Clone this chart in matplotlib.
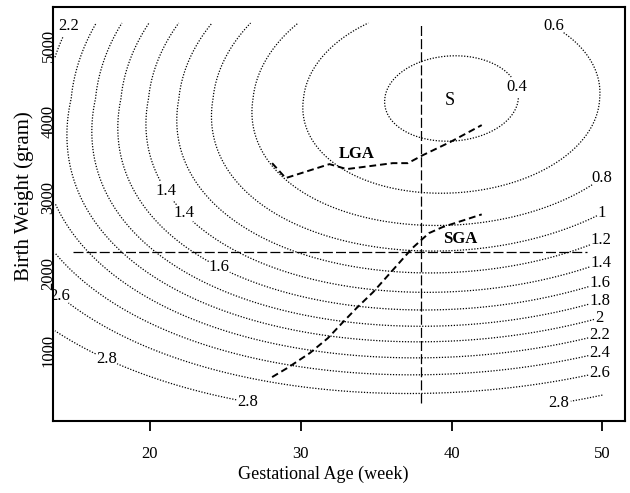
import numpy as np
import matplotlib
matplotlib.use("Agg")
import matplotlib.pyplot as plt

plt.rcParams['font.family'] = ['Liberation Serif', 'DejaVu Serif']

# surface parameters
centre_age, centre_weight = 40.0, 4300.0
scale_age, scale_weight = 19.6, 2480.0
shear_lin, shear_quad = 1.2, -0.4
widen = 0.067
floor_value = 0.349
bend_start, bend = 1.5, 0.21
grid_age = (13.7, 50.0)
grid_weight = (300.0, 5290.0)

levels = [0.4, 0.6, 0.8, 1.0, 1.2, 1.4, 1.6, 1.8, 2.0, 2.2, 2.4, 2.6, 2.8]

# where the contour labels sit
label_age = [14.4, 20.8, 22.0, 24.4, 13.9, 17.0, 26.4, 47.15, 46.7, 44.3,
             49.8, 49.8, 49.8, 49.8, 49.8, 49.8, 49.8, 49.8, 49.8, 49.8]
label_weight = [5262, 3059, 2744, 2023, 1695, 843, 226, 279, 5223, 4449,
                3295, 2862, 2482, 2180, 1892, 1656, 1433, 1210, 987, 725]

# LGA / SGA curves
lga_age = [28.1, 29.0, 31.9, 33.05, 36.1, 37.1, 38.1, 39.9, 42.0]
lga_weight = [3452, 3256, 3439, 3374, 3452, 3452, 3557, 3728, 3951]
sga_age = [28.1, 29.1, 30.6, 31.8, 32.8, 33.7, 34.8, 36.1, 37.4, 38.5, 39.4, 42.0]
sga_weight = [646, 764, 961, 1157, 1367, 1551, 1761, 2049, 2338, 2534, 2613, 2780]

cut_age = 38.0
cut_weight = 2290.0
hline_age = (14.9, 49.0)


def surface(age, weight):
    v = (weight - centre_weight) / scale_weight
    xc = centre_age + shear_lin * v + shear_quad * v ** 2
    ax_eff = scale_age * (1 + widen * np.maximum(-v, 0))
    u = (age - xc) / ax_eff
    q = u ** 2 + v ** 2
    t = np.clip(q - bend_start, 0, 1 / (2 * bend))
    return floor_value + np.minimum(q, bend_start) + t - bend * t ** 2


A, W = np.meshgrid(np.linspace(*grid_age, 400), np.linspace(*grid_weight, 400))
F = surface(A, W)

fig = plt.figure(figsize=(6.3, 4.93), dpi=100)
ax = fig.add_axes([53 / 630, 1 - 421 / 493, 572 / 630, 414 / 493])

cs = ax.contour(A, W, F, levels=levels, colors='black', linewidths=0.9,
                linestyles=[(0, (1, 1.3))] * len(levels))
texts = ax.clabel(cs, levels, inline=True, inline_spacing=2, fontsize=12,
                  fmt=lambda v: f"{v:g}", manual=list(zip(label_age, label_weight)))
for t in texts:
    t.set_rotation(0)

ax.plot(lga_age, lga_weight, color='black', lw=1.4, linestyle=(0, (3.5, 2)))
ax.plot(sga_age, sga_weight, color='black', lw=1.4, linestyle=(0, (3.5, 2)))
ax.plot([cut_age, cut_age], grid_weight, color='black', lw=0.9, linestyle=(0, (8, 2.5)))
ax.plot(hline_age, [cut_weight, cut_weight], color='black', lw=0.9, linestyle=(0, (8, 2.5)))

ax.text(33.7, 3570, 'LGA', fontsize=12, fontweight='bold', ha='center', va='center')
ax.text(40.6, 2456, 'SGA', fontsize=12, fontweight='bold', ha='center', va='center')
ax.text(39.9, 4280, 'S', fontsize=13, ha='center', va='center')

ax.set_xlim(13.57, 51.5)
ax.set_ylim(70, 5500)
ax.set_xticks([20, 30, 40, 50])
ax.set_yticks([1000, 2000, 3000, 4000, 5000])
ax.tick_params(axis='x', direction='out', length=7, width=1.3, labelsize=12, pad=11)
ax.tick_params(axis='y', length=0, labelsize=12, pad=-2.6)
for lab in ax.get_yticklabels():
    lab.set_rotation(90)
    lab.set_va('center')
for sp in ax.spines.values():
    sp.set_linewidth(1.5)

ax.set_xlabel('Gestational Age (week)', fontsize=13)
ax.set_ylabel('Birth Weight (gram)', fontsize=15)
ax.xaxis.set_label_coords(0.472, -0.108)
ax.yaxis.set_label_coords(-0.033, 0.543)

fig.savefig('out.png', dpi=100)
